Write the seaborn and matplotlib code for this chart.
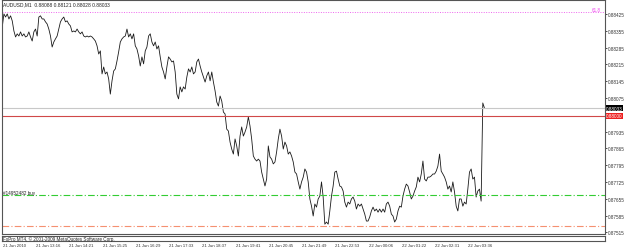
import numpy as np
import pandas as pd
import matplotlib
matplotlib.use("Agg")
import matplotlib.pyplot as plt
import matplotlib.transforms as mtransforms
import seaborn as sns

# ---------------- data (AUDUSD M1 close prices, sampled along the chart) ----------------
close_a = [0.88371, 0.88425, 0.88412, 0.88425, 0.88404, 0.88417, 0.88396, 0.88354, 0.88329, 0.88342,
           0.88333, 0.88350, 0.88333, 0.88342, 0.88329, 0.88333, 0.88350, 0.88329, 0.88312, 0.88350,
           0.88362, 0.88333, 0.88412, 0.88417, 0.88404, 0.88404, 0.88392, 0.88383, 0.88362, 0.88333,
           0.88287, 0.88308, 0.88321, 0.88333, 0.88362, 0.88392, 0.88404, 0.88412, 0.88392, 0.88396,
           0.88383, 0.88375, 0.88350, 0.88354, 0.88350, 0.88362, 0.88350, 0.88342, 0.88350, 0.88333,
           0.88329, 0.88333, 0.88329, 0.88333, 0.88329, 0.88321, 0.88312, 0.88292, 0.88258, 0.88271]
close_b = [0.88175, 0.88204, 0.88175, 0.88183, 0.88154, 0.88091, 0.88146, 0.88187, 0.88196,
           0.88229, 0.88267, 0.88308, 0.88321, 0.88329, 0.88333, 0.88362, 0.88329, 0.88342, 0.88321,
           0.88342, 0.88292, 0.88279, 0.88250, 0.88208, 0.88246, 0.88217, 0.88271, 0.88287, 0.88333,
           0.88342, 0.88308, 0.88292, 0.88308, 0.88279, 0.88292, 0.88246, 0.88204, 0.88183, 0.88154,
           0.88204, 0.88246, 0.88237, 0.88225, 0.88229, 0.88183, 0.88091, 0.88071, 0.88121, 0.88100,
           0.88121, 0.88112, 0.88162, 0.88196, 0.88183, 0.88204, 0.88175, 0.88183]
close_c = [0.88225, 0.88237, 0.88208, 0.88183, 0.88162, 0.88141, 0.88167, 0.88183, 0.88146,
           0.88183, 0.88141, 0.88104, 0.88058, 0.88041, 0.88083, 0.88062, 0.88016, 0.88008, 0.87945,
           0.87937, 0.87891, 0.87862, 0.87841, 0.87904, 0.87875, 0.87833, 0.87916, 0.87954, 0.87916,
           0.87933, 0.87954, 0.87996, 0.87958, 0.87904, 0.87833, 0.87820, 0.87812, 0.87820, 0.87812,
           0.87766, 0.87737, 0.87708, 0.87737, 0.87875, 0.87829, 0.87820, 0.87800, 0.87808, 0.87850,
           0.87904, 0.87945, 0.87916, 0.87862, 0.87891, 0.87875, 0.87841, 0.87850]
close_d = [0.87833, 0.87808, 0.87766, 0.87758, 0.87725, 0.87695, 0.87725, 0.87745, 0.87779,
           0.87766, 0.87725, 0.87654, 0.87624, 0.87583, 0.87633, 0.87620, 0.87654, 0.87666, 0.87725,
           0.87662, 0.87549, 0.87558, 0.87549, 0.87604, 0.87666, 0.87708, 0.87766, 0.87770, 0.87737,
           0.87708, 0.87704, 0.87687, 0.87641, 0.87620, 0.87641, 0.87633, 0.87654, 0.87662, 0.87645,
           0.87612, 0.87633, 0.87624, 0.87633, 0.87612, 0.87591, 0.87562, 0.87562, 0.87579, 0.87604,
           0.87620, 0.87604, 0.87612, 0.87599, 0.87612, 0.87599, 0.87612, 0.87599]
close_e = [0.87633, 0.87641, 0.87624, 0.87591, 0.87583, 0.87558, 0.87570, 0.87604, 0.87624,
           0.87620, 0.87666, 0.87695, 0.87716, 0.87708, 0.87683, 0.87654, 0.87666, 0.87687, 0.87704,
           0.87745, 0.87725, 0.87758, 0.87812, 0.87737, 0.87729, 0.87745, 0.87745, 0.87750, 0.87758,
           0.87758, 0.87770, 0.87791, 0.87841, 0.87770, 0.87758, 0.87745, 0.87725, 0.87695, 0.87708,
           0.87683, 0.87725, 0.87683, 0.87624, 0.87604, 0.87654, 0.87654, 0.87624, 0.87641, 0.87633,
           0.87695, 0.87766, 0.87779, 0.87737, 0.87745, 0.87662, 0.87687, 0.87695, 0.87645,
           0.88054, 0.88033]
closes = close_a + close_b + close_c + close_d + close_e

MIN_PER_SAMPLE = 3.2          # chart minutes between samples
BARS_PER_LABEL = 64

time_labels = ["21 Jun 2010", "21 Jun 13:16", "21 Jun 14:21", "21 Jun 15:25", "21 Jun 16:29",
               "21 Jun 17:33", "21 Jun 18:37", "21 Jun 19:41", "21 Jun 20:45", "21 Jun 21:49",
               "21 Jun 22:53", "22 Jun 00:06", "22 Jun 01:22", "22 Jun 02:31", "22 Jun 03:36"]
price_ticks = [0.88425, 0.88355, 0.88285, 0.88215, 0.88145, 0.88075, 0.88005, 0.87935,
               0.87865, 0.87795, 0.87725, 0.87655, 0.87585, 0.87515]

header = "AUDUSD,M1  0.88088 0.88121 0.88028 0.88033"
bid_price = 0.88033
alert_price = 0.88000
fibo_price = 0.88433
fibo_label = "61.8"
order_price = 0.87670
order_label = "#14952482 buy"
sl_price = 0.87541
copyright_text = "FxPro MT4, \u00a9 2001-2009 MetaQuotes Software Corp."

df = pd.DataFrame({"bar": np.arange(len(closes)) * MIN_PER_SAMPLE, "close": closes})

# ---------------- figure ----------------
sns.set_style("white")
plt.rcParams["font.family"] = ["Liberation Sans", "DejaVu Sans"]
W, H = 625, 253
fig = plt.figure(figsize=(W / 100, H / 100), dpi=100)

def frac(x0, y0, x1, y1):
    return [x0 / W, 1 - y1 / H, (x1 - x0) / W, (y1 - y0) / H]

FS = 3.3
ax = fig.add_axes(frac(2, 1, 605, 235))
sns.lineplot(data=df, x="bar", y="close", ax=ax, color="#1a1a1a", lw=0.6)

ax.set_xlim(-0.5, 1160)
ax.set_ylim(0.87508, 0.88483)
ax.set_xlabel("")
ax.set_ylabel("")
ax.set_xticks([])
ax.yaxis.tick_right()
ax.set_yticks(price_ticks)
# the 0.88005 label is hidden under the alert price box in the terminal
ax.set_yticklabels([f"{p:.5f}" if abs(p - alert_price) > 0.0001 else "" for p in price_ticks])
ax.tick_params(axis="y", length=1.5, width=0.6, pad=0.6, labelsize=FS, colors="#333333")
for s in ax.spines.values():
    s.set_color("#555555")
    s.set_linewidth(0.8)

# horizontal objects
ax.axhline(fibo_price, color="#ee66ee", lw=0.7, ls=(0, (1, 1.5)))
ax.axhline(bid_price, color="#c8c8c8", lw=0.8)
ax.axhline(alert_price, color="#d04848", lw=0.8)
ax.axhline(order_price, color="#33cc33", lw=0.8, ls=(0, (6, 2, 1, 2)))
ax.axhline(sl_price, color="#f59070", lw=0.8, ls=(0, (6, 2, 1, 2)))

tr = mtransforms.blended_transform_factory(ax.transAxes, ax.transData)
ax.text(0.993, fibo_price, fibo_label, transform=tr, ha="right", va="bottom",
        fontsize=FS, color="#ee44ee")
ax.text(0.002, order_price + 0.00002, order_label, transform=tr, ha="left", va="bottom",
        fontsize=FS, color="#222222")
ax.text(0.002, 0.9955, header, transform=ax.transAxes, ha="left", va="top",
        fontsize=3.5, color="#222222")
ax.text(1.002, bid_price, f"{bid_price:.5f}", transform=tr, ha="left", va="center",
        fontsize=FS, color="white", clip_on=False, zorder=10,
        bbox=dict(boxstyle="square,pad=0.08", fc="black", ec="none"))
ax.text(1.002, alert_price, f"{alert_price:.5f}", transform=tr, ha="left", va="center",
        fontsize=FS, color="white", clip_on=False, zorder=10,
        bbox=dict(boxstyle="square,pad=0.08", fc="#ee2020", ec="none"))

# bottom sub window with copyright
ax2 = fig.add_axes(frac(2, 236.5, 605, 241.5))
ax2.set_xticks([]); ax2.set_yticks([])
for s in ax2.spines.values():
    s.set_color("#555555")
    s.set_linewidth(0.8)
ax2.text(0.002, 0.5, copyright_text, transform=ax2.transAxes, ha="left", va="center",
         fontsize=FS, color="#222222")

# time labels
for i, lab in enumerate(time_labels):
    xb = i * BARS_PER_LABEL
    xf = ax.transData.transform((xb, 0))[0]
    fig.text(xf / W + 0.001, 1 - 246.5 / H, lab, ha="left", va="center", fontsize=3.1, color="#333333")

fig.savefig("out.png", dpi=100)
